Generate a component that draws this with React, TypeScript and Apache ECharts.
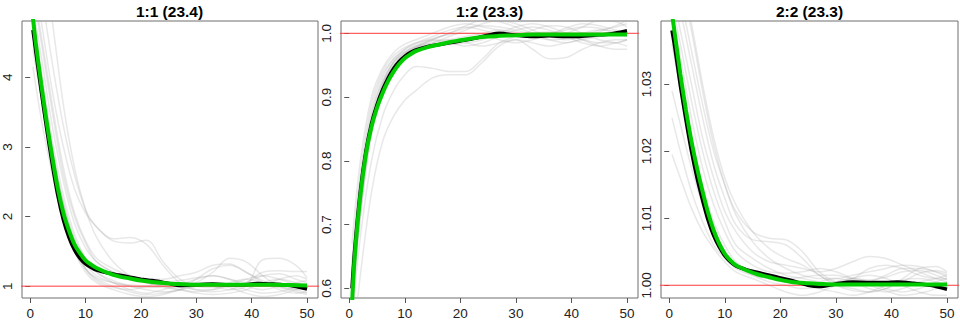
import React, { useEffect, useRef } from "react";
import * as echarts from "echarts";

// ---------- data ----------
const TITLES = ["1:1 (23.4)", "1:2 (23.3)", "2:2 (23.3)"];
const X_TICKS = [0, 10, 20, 30, 40, 50];
const Y_TICKS_1 = [1, 2, 3, 4];
const Y_TICKS_2 = [0.6, 0.7, 0.8, 0.9, 1.0];
const Y_TICKS_3 = [1.0, 1.01, 1.02, 1.03];
const REF_Y = [1, 1, 1];

const MAIN_X = [0.5, 1, 2, 3, 4, 5, 6, 7, 8, 9, 10, 11, 12, 14, 16, 18, 20, 22, 25, 27, 30, 33, 36, 39, 41, 44, 47, 50];
const GRAY_X = [0.5, 2, 4, 6, 8, 10, 12, 15, 18, 21, 24, 27, 30, 33, 36, 39, 42, 45, 48, 50];

const BLACK_1 = [4.68, 4.38, 3.8, 3.25, 2.75, 2.3, 1.95, 1.7, 1.52, 1.4, 1.32, 1.27, 1.23, 1.19, 1.16, 1.13, 1.1, 1.08, 1.04, 1.01, 1.02, 1.03, 1.02, 1.02, 1.04, 1.03, 1.01, 0.96];
const GREEN_1 = [4.85, 4.5, 3.9, 3.35, 2.85, 2.4, 2.05, 1.8, 1.6, 1.47, 1.37, 1.31, 1.26, 1.19, 1.14, 1.11, 1.08, 1.06, 1.04, 1.03, 1.02, 1.02, 1.02, 1.02, 1.02, 1.02, 1.015, 1.01];
const BLACK_2 = [0.6, 0.662, 0.752, 0.815, 0.858, 0.888, 0.911, 0.93, 0.945, 0.956, 0.964, 0.97, 0.974, 0.979, 0.982, 0.985, 0.988, 0.991, 0.997, 1.0, 0.997, 0.995, 0.996, 0.995, 0.995, 0.997, 0.999, 1.004];
const GREEN_2 = [0.575, 0.65, 0.745, 0.81, 0.853, 0.883, 0.906, 0.925, 0.94, 0.952, 0.961, 0.967, 0.972, 0.978, 0.982, 0.986, 0.989, 0.992, 0.995, 0.996, 0.997, 0.998, 0.998, 0.998, 0.998, 0.998, 0.998, 0.998];
const BLACK_3 = [1.038, 1.0355, 1.0298, 1.0247, 1.02, 1.016, 1.0127, 1.0097, 1.0074, 1.0057, 1.0044, 1.0035, 1.0029, 1.0023, 1.0019, 1.0015, 1.0011, 1.0007, 1.0, 0.9998, 1.0002, 1.0005, 1.0004, 1.0004, 1.0005, 1.0003, 1.0, 0.9994];
const GREEN_3 = [1.0405, 1.0375, 1.0315, 1.0262, 1.0215, 1.0175, 1.014, 1.0108, 1.0082, 1.0062, 1.0047, 1.0037, 1.003, 1.0022, 1.0016, 1.0012, 1.0008, 1.0005, 1.0003, 1.0002, 1.0001, 1.0001, 1.0001, 1.0001, 1.0001, 1.0001, 1.0001, 1.0001];

const GRAY_1 = [
  [4.15, 3.4, 2.6, 1.95, 1.5, 1.25, 1.1, 1.0, 0.92, 0.88, 0.9, 0.95, 1.0, 1.05, 1.02, 0.95, 0.9, 0.92, 0.98, 1.0],
  [4.4, 3.7, 2.9, 2.2, 1.7, 1.4, 1.2, 1.05, 0.95, 0.9, 0.95, 1.02, 1.1, 1.15, 1.1, 1.0, 0.95, 1.0, 1.05, 1.08],
  [5.8, 5.2, 4.2, 3.3, 2.6, 2.1, 1.85, 1.68, 1.7, 1.6, 1.3, 1.05, 0.95, 0.95, 1.02, 1.1, 1.15, 1.1, 1.02, 0.98],
  [5.5, 4.8, 3.8, 3.0, 2.4, 2.05, 1.85, 1.65, 1.62, 1.66, 1.35, 1.1, 1.0, 0.98, 1.0, 1.05, 1.2, 1.22, 1.21, 1.21],
  [5.0, 4.3, 3.3, 2.5, 1.9, 1.55, 1.35, 1.2, 1.1, 1.05, 1.0, 0.98, 1.05, 1.2, 1.4, 1.35, 1.15, 1.0, 0.95, 0.98],
  [4.9, 4.1, 3.1, 2.3, 1.75, 1.4, 1.2, 1.08, 1.0, 0.95, 0.92, 0.95, 1.1, 1.25, 1.3, 1.2, 1.05, 0.95, 0.9, 0.92],
  [4.7, 3.9, 2.95, 2.2, 1.65, 1.32, 1.15, 1.05, 1.0, 0.98, 1.0, 1.05, 1.05, 1.0, 0.95, 1.0, 1.38, 1.4, 1.3, 1.12],
  [6.5, 5.9, 4.8, 3.6, 2.7, 2.1, 1.7, 1.35, 1.15, 1.05, 1.0, 0.95, 0.9, 0.88, 0.9, 0.95, 1.05, 1.1, 1.05, 1.0],
  [4.6, 3.8, 2.8, 2.0, 1.5, 1.2, 1.05, 0.95, 0.88, 0.85, 0.88, 0.95, 1.0, 1.02, 0.98, 0.9, 0.85, 0.88, 0.95, 1.02],
  [5.2, 4.5, 3.5, 2.6, 2.0, 1.62, 1.35, 1.2, 1.12, 1.08, 1.05, 1.08, 1.12, 1.15, 1.1, 1.05, 1.02, 1.1, 1.15, 1.1],
  [4.8, 4.0, 3.0, 2.15, 1.6, 1.25, 1.08, 0.98, 0.95, 1.0, 1.05, 1.02, 0.95, 0.92, 0.95, 1.05, 1.15, 1.18, 1.1, 1.05],
  [5.3, 4.6, 3.6, 2.7, 2.05, 1.65, 1.4, 1.25, 1.15, 1.1, 1.1, 1.15, 1.2, 1.3, 1.32, 1.2, 1.08, 1.0, 0.95, 0.9],
  [4.5, 3.75, 2.85, 2.1, 1.55, 1.25, 1.12, 1.05, 1.02, 1.0, 0.98, 0.95, 0.92, 0.95, 1.05, 1.1, 1.05, 0.98, 0.92, 0.88],
];
const GRAY_2 = [
  [0.67, 0.8, 0.9, 0.945, 0.97, 0.983, 0.99, 1.0, 1.01, 1.015, 1.01, 1.005, 1.0, 0.998, 1.0, 1.005, 1.01, 1.008, 1.0, 0.995],
  [0.62, 0.76, 0.87, 0.925, 0.955, 0.97, 0.978, 0.985, 0.995, 1.005, 1.015, 1.02, 1.015, 1.005, 0.995, 0.99, 0.995, 1.005, 1.01, 1.015],
  [0.55, 0.68, 0.8, 0.87, 0.91, 0.935, 0.948, 0.945, 0.94, 0.94, 0.96, 0.985, 0.995, 1.0, 1.002, 0.998, 0.99, 0.985, 0.985, 0.99],
  [0.5, 0.62, 0.75, 0.83, 0.87, 0.895, 0.91, 0.93, 0.935, 0.935, 0.955, 0.98, 0.99, 0.985, 0.98, 0.985, 0.99, 0.995, 1.0, 1.005],
  [0.6, 0.74, 0.86, 0.92, 0.95, 0.968, 0.978, 0.988, 0.99, 0.985, 0.98, 0.985, 0.99, 0.975, 0.96, 0.962, 0.975, 0.985, 0.99, 0.99],
  [0.58, 0.73, 0.855, 0.92, 0.955, 0.975, 0.985, 0.995, 1.005, 1.01, 1.005, 0.998, 0.995, 1.005, 1.012, 1.01, 1.0, 0.99, 0.985, 0.98],
  [0.64, 0.78, 0.89, 0.94, 0.965, 0.978, 0.985, 0.99, 0.985, 0.98, 0.985, 0.995, 1.005, 1.01, 1.005, 0.995, 0.985, 0.98, 0.985, 0.99],
  [0.56, 0.71, 0.84, 0.91, 0.945, 0.965, 0.978, 0.99, 1.0, 1.008, 1.012, 1.01, 1.005, 0.998, 0.99, 0.985, 0.992, 1.002, 1.012, 1.02],
  [0.6, 0.75, 0.87, 0.93, 0.96, 0.975, 0.983, 0.992, 0.998, 1.0, 0.998, 0.99, 0.985, 0.99, 0.998, 1.008, 1.015, 1.012, 1.005, 1.0],
  [0.59, 0.72, 0.85, 0.915, 0.95, 0.968, 0.975, 0.98, 0.982, 0.985, 0.99, 1.0, 1.01, 1.015, 1.01, 1.0, 0.99, 0.98, 0.975, 0.975],
  [0.63, 0.77, 0.88, 0.935, 0.96, 0.972, 0.98, 0.985, 0.99, 0.995, 1.0, 1.005, 1.002, 0.995, 0.99, 0.992, 1.0, 1.005, 1.003, 1.0],
  [0.57, 0.72, 0.85, 0.92, 0.955, 0.97, 0.98, 0.99, 1.0, 1.012, 1.02, 1.018, 1.01, 1.0, 0.995, 1.0, 1.01, 1.02, 1.018, 1.01],
];
const GRAY_3 = [
  [1.029, 1.024, 1.0175, 1.012, 1.008, 1.005, 1.003, 1.0015, 1.0005, 1.0, 0.9995, 0.9998, 1.0005, 1.001, 1.0005, 0.9995, 0.999, 0.9995, 1.0005, 1.001],
  [1.025, 1.02, 1.014, 1.0095, 1.006, 1.004, 1.0025, 1.0015, 1.001, 1.0005, 1.0, 1.0005, 1.001, 1.0005, 0.9995, 0.999, 0.9995, 1.0005, 1.001, 1.0015],
  [1.0195, 1.016, 1.0115, 1.008, 1.0055, 1.0035, 1.002, 1.001, 1.0, 0.999, 0.9985, 0.999, 1.0, 1.001, 1.0015, 1.001, 1.0, 0.999, 0.9985, 0.9985],
  [1.048, 1.043, 1.035, 1.027, 1.02, 1.015, 1.011, 1.008, 1.007, 1.0068, 1.005, 1.002, 1.0005, 1.0, 1.0005, 1.0015, 1.0025, 1.0025, 1.002, 1.0015],
  [1.046, 1.041, 1.033, 1.025, 1.018, 1.013, 1.009, 1.0068, 1.0065, 1.006, 1.004, 1.0015, 1.0005, 1.001, 1.0025, 1.003, 1.0025, 1.0015, 1.001, 1.001],
  [1.044, 1.038, 1.03, 1.022, 1.016, 1.011, 1.008, 1.005, 1.0035, 1.003, 1.0025, 1.002, 1.0025, 1.0035, 1.0043, 1.004, 1.003, 1.002, 1.001, 1.0005],
  [1.042, 1.036, 1.0275, 1.02, 1.014, 1.0095, 1.006, 1.004, 1.0025, 1.0015, 1.001, 1.0005, 1.0, 0.9995, 0.999, 0.9995, 1.001, 1.0025, 1.0028, 1.002],
  [1.05, 1.046, 1.038, 1.029, 1.021, 1.015, 1.0105, 1.0065, 1.004, 1.0025, 1.0015, 1.001, 1.001, 1.0015, 1.002, 1.0025, 1.003, 1.0028, 1.002, 1.0012],
  [1.038, 1.031, 1.022, 1.015, 1.0095, 1.006, 1.0035, 1.002, 1.001, 1.0005, 1.0002, 0.9995, 0.999, 0.9985, 0.999, 1.0, 1.0008, 1.001, 1.0005, 1.0],
  [1.04, 1.034, 1.025, 1.0175, 1.012, 1.008, 1.005, 1.003, 1.002, 1.0018, 1.002, 1.0025, 1.002, 1.001, 1.0, 0.9992, 0.9985, 0.9988, 0.9995, 1.0005],
  [1.036, 1.029, 1.02, 1.013, 1.008, 1.005, 1.003, 1.0018, 1.0012, 1.001, 1.0012, 1.0015, 1.0015, 1.001, 1.0008, 1.0012, 1.002, 1.0022, 1.0015, 1.0008],
  [1.052, 1.047, 1.039, 1.03, 1.022, 1.016, 1.012, 1.008, 1.0055, 1.004, 1.003, 1.0015, 1.0, 0.9992, 0.999, 0.9995, 1.0005, 1.0018, 1.0022, 1.0018],
];

// ---------- layout ----------
const X_MIN = -1.48;
const X_MAX = 51.98;
const PANELS = [
  { left: 21, yMin: 0.83, yMax: 4.81, ticks: Y_TICKS_1, dec: 0, gray: GRAY_1, black: BLACK_1, green: GREEN_1 },
  { left: 341, yMin: 0.5848, yMax: 1.0193, ticks: Y_TICKS_2, dec: 1, gray: GRAY_2, black: BLACK_2, green: GREEN_2 },
  { left: 661, yMin: 0.9981, yMax: 1.0394, ticks: Y_TICKS_3, dec: 2, gray: GRAY_3, black: BLACK_3, green: GREEN_3 },
];
const GRID_W = 297;
const GRID_TOP = 21;
const GRID_H = 277;
const FONT = "Liberation Sans, Arial, Helvetica, sans-serif";

function pair(xs: number[], ys: number[]) {
  return xs.map((x, i) => [x, ys[i]]);
}

export default function App() {
  const ref = useRef<HTMLDivElement>(null);
  useEffect(() => {
    document.body.style.margin = "0";
    const chart = echarts.init(ref.current!, null, { renderer: "svg" });
    const grid: any[] = [];
    const xAxis: any[] = [];
    const yAxis: any[] = [];
    const series: any[] = [];
    const graphic: any[] = [];
    PANELS.forEach((p, i) => {
      grid.push({
        left: p.left, top: GRID_TOP, width: GRID_W, height: GRID_H,
        show: true, borderColor: "#6e6e6e", borderWidth: 1, backgroundColor: "transparent",
      });
      xAxis.push({
        type: "value", gridIndex: i, min: X_MIN, max: X_MAX,
        axisLine: { show: false },
        splitLine: { show: false },
        axisTick: { show: true, length: 5, lineStyle: { color: "#555" }, customValues: X_TICKS },
        axisLabel: { customValues: X_TICKS, color: "#222", fontSize: 13.5, fontFamily: FONT, margin: 8 },
      });
      yAxis.push({
        type: "value", gridIndex: i, min: p.yMin, max: p.yMax,
        axisLine: { show: false },
        splitLine: { show: false },
        axisTick: { show: true, length: 5, lineStyle: { color: "#555" }, customValues: p.ticks },
        axisLabel: {
          customValues: p.ticks, rotate: 90, color: "#222", fontSize: 13.5, fontFamily: FONT, margin: 8,
          formatter: (v: number) => v.toFixed(p.dec),
        },
      });
      p.gray.forEach((g) => {
        series.push({
          type: "line", xAxisIndex: i, yAxisIndex: i, data: pair(GRAY_X, g),
          smooth: 0.35, showSymbol: false, symbol: "none",
          lineStyle: { color: "rgba(170,170,170,0.27)", width: 1.5 },
          silent: true, z: 1,
        });
      });
      series.push({
        type: "line", xAxisIndex: i, yAxisIndex: i,
        data: [[X_MIN - 21 / 5.56 + 0.1, REF_Y[i]], [X_MAX + 9 / 5.56, REF_Y[i]]],
        clip: false, symbol: "none", lineStyle: { color: "#ff3b3b", width: 1 }, z: 2, silent: true,
      });
      series.push({
        type: "line", xAxisIndex: i, yAxisIndex: i, data: pair(MAIN_X, p.black),
        smooth: 0.3, symbol: "none", lineStyle: { color: "#000", width: 3.5 }, z: 3, silent: true,
      });
      series.push({
        type: "line", xAxisIndex: i, yAxisIndex: i, data: pair(MAIN_X, p.green),
        smooth: 0.3, symbol: "none", lineStyle: { color: "#00cc00", width: 4 }, z: 4, silent: true,
      });
      graphic.push({
        type: "text", x: p.left + GRID_W / 2, y: 11,
        style: { text: TITLES[i], textAlign: "center", textVerticalAlign: "middle", font: `bold 15.5px ${FONT}`, fill: "#000" },
      });
    });
    chart.setOption({ animation: false, grid, xAxis, yAxis, series, graphic });
    return () => chart.dispose();
  }, []);
  return <div ref={ref} style={{ width: 960, height: 320 }} />;
}
